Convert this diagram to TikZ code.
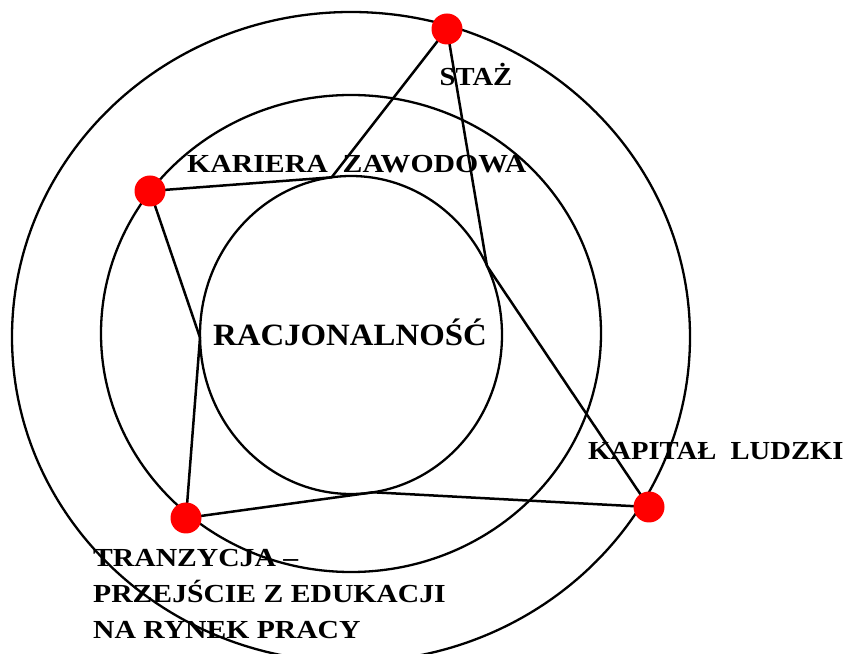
\documentclass[tikz,border=0pt]{standalone}
\usepackage{fontspec}
\setmainfont{Liberation Serif}
\usetikzlibrary{shapes.geometric,backgrounds}
\definecolor{dotRed}{HTML}{FF0000}
\newcommand{\wide}[2][1.1]{\scalebox{#1}[1]{#2}}

\begin{document}
\begin{tikzpicture}[x=1pt, y=1pt,
    ring/.style={draw=black, line width=2.3pt, ellipse, inner sep=0pt, outer sep=0pt},
    dot/.style={circle, fill=dotRed, inner sep=0pt, minimum size=31pt},
    link/.style={line width=2.5pt, line join=round},
    lbl/.style={font=\fontsize{26}{36}\selectfont\bfseries, inner sep=0pt}
  ]
  \useasboundingbox (0,0) rectangle (847,654);

  \node[ring, minimum width=678pt, minimum height=650pt] (outer) at (351,317) {};
  \node[ring, minimum width=500pt, minimum height=477pt] (middle) at (351,320.5) {};
  \node[ring, minimum width=302pt, minimum height=318pt] (core) at (351,319) {};

  \coordinate (ktop) at (core.97.6);
  \coordinate (kright) at (core.27.2);
  \coordinate (kbot) at (core.-82);
  \coordinate (kleft) at (core.181.9);

  \node[dot] (staz) at (447,625) {};
  \node[dot] (kariera) at (150,463) {};
  \node[dot] (tranzycja) at (186,136) {};
  \node[dot] (kapital) at (649,147) {};

  \begin{scope}[on background layer]
    \draw[link] (kariera.center) -- (ktop) -- (staz.center) -- (kright)
      -- (kapital.center) -- (kbot) -- (tranzycja.center) -- (kleft) -- cycle;
  \end{scope}

  \node[lbl, anchor=base] (stazlbl) at (476,568) {\wide{STAŻ}};
  \node[lbl, anchor=base west] (karieralbl) at (187,481) {\wide[1.145]{KARIERA\ \ ZAWODOWA}};
  \node[lbl, anchor=base west] (kapitallbl) at (588,194) {\wide{KAPITAŁ\ \ LUDZKI}};
  \node[lbl, anchor=base, font=\fontsize{31}{36}\selectfont\bfseries] (racjo) at (350,308) {\wide[1.06]{RACJONALNOŚĆ}};
  \node[lbl, anchor=north west, align=left] (tranzlbl) at (93,104.5)
    {\wide[1.14]{TRANZYCJA –}\\\wide[1.14]{PRZEJŚCIE Z EDUKACJI}\\\wide[1.14]{NA RYNEK PRACY}};
\end{tikzpicture}
\end{document}
